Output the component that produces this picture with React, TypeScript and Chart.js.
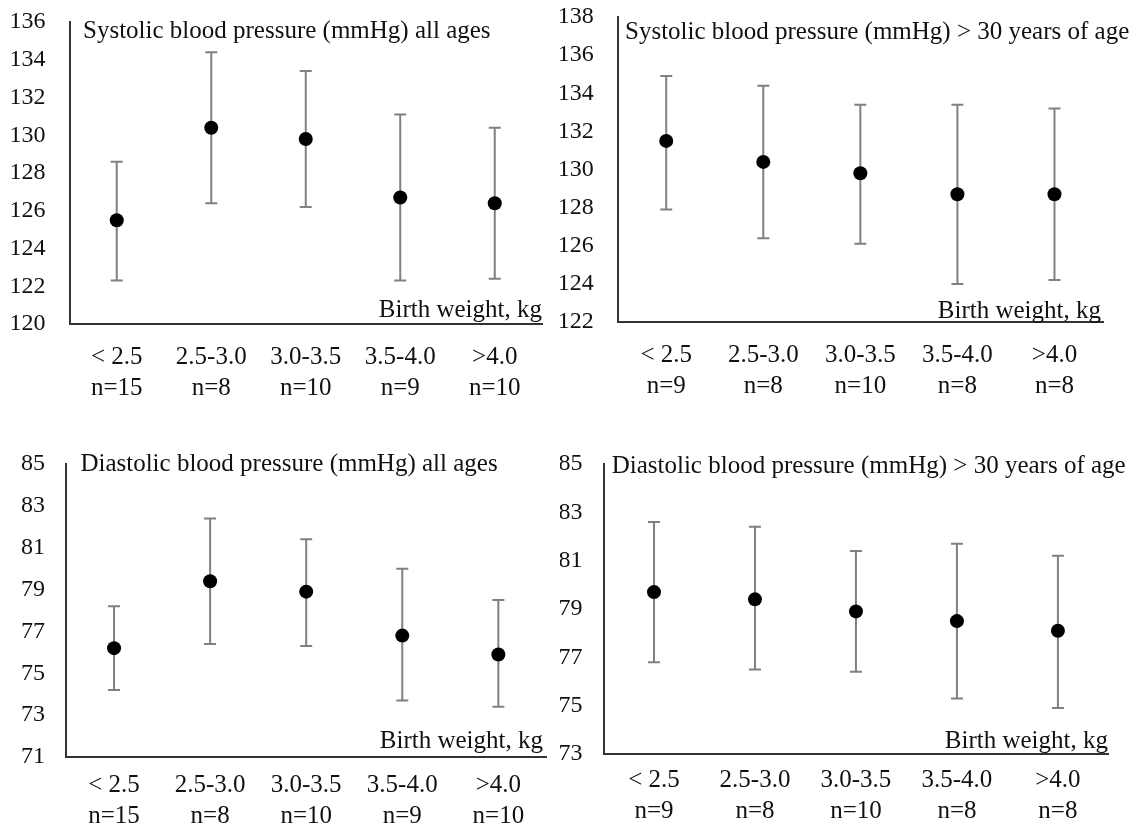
import React, { useEffect, useRef } from 'react';
import { Chart, registerables } from 'chart.js';

Chart.register(...registerables);

// ---------- data ----------
const categories = ['< 2.5', '2.5-3.0', '3.0-3.5', '3.5-4.0', '>4.0'];
const nAllAges = ['n=15', 'n=8', 'n=10', 'n=9', 'n=10'];
const nOver30 = ['n=9', 'n=8', 'n=10', 'n=8', 'n=8'];

const sysAllMean = [125.5, 130.4, 129.8, 126.7, 126.4];
const sysAllUpper = [128.6, 134.4, 133.4, 131.1, 130.4];
const sysAllLower = [122.3, 126.4, 126.2, 122.3, 122.4];

const sysOver30Mean = [131.5, 130.4, 129.8, 128.7, 128.7];
const sysOver30Upper = [134.9, 134.4, 133.4, 133.4, 133.2];
const sysOver30Lower = [127.9, 126.4, 126.1, 124.0, 124.2];

const diaAllMean = [76.2, 79.4, 78.9, 76.8, 75.9];
const diaAllUpper = [78.2, 82.4, 81.4, 80.0, 78.5];
const diaAllLower = [74.2, 76.4, 76.3, 73.7, 73.4];

const diaOver30Mean = [79.7, 79.4, 78.9, 78.5, 78.1];
const diaOver30Upper = [82.6, 82.4, 81.4, 81.7, 81.2];
const diaOver30Lower = [76.8, 76.5, 76.4, 75.3, 74.9];

const titles = [
  'Systolic blood pressure (mmHg) all ages',
  'Systolic blood pressure (mmHg) > 30 years of age',
  'Diastolic blood pressure (mmHg) all ages',
  'Diastolic blood pressure (mmHg) > 30 years of age',
];
const xAxisLabel = 'Birth weight, kg';

const FONT = "'Liberation Serif', 'Times New Roman', serif";
const TEXT = '#111111';

type Panel = {
  left: number; top: number; width: number; height: number;
  area: { left: number; right: number; top: number; bottom: number };
  yMin: number; yMax: number; yPad: number; xPad: number;
  title: string; titleX: number; titleY: number;
  axTitleX: number; axTitleY: number;
  mean: number[]; upper: number[]; lower: number[]; n: string[];
};

const panels: Panel[] = [
  {
    left: 0, top: 0, width: 560, height: 410,
    area: { left: 69.5, right: 542, top: 22, bottom: 324 },
    yMin: 120, yMax: 136, yPad: 24, xPad: 18,
    title: titles[0], titleX: 83, titleY: 38,
    axTitleX: 542, axTitleY: 317,
    mean: sysAllMean, upper: sysAllUpper, lower: sysAllLower, n: nAllAges,
  },
  {
    left: 560, top: 0, width: 577, height: 410,
    area: { left: 57.7, right: 543, top: 17, bottom: 322 },
    yMin: 122, yMax: 138, yPad: 24, xPad: 18,
    title: titles[1], titleX: 65, titleY: 39,
    axTitleX: 541, axTitleY: 318,
    mean: sysOver30Mean, upper: sysOver30Upper, lower: sysOver30Lower, n: nOver30,
  },
  {
    left: 0, top: 410, width: 560, height: 417,
    area: { left: 66, right: 546.4, top: 54, bottom: 347 },
    yMin: 71, yMax: 85, yPad: 21, xPad: 13,
    title: titles[2], titleX: 80.4, titleY: 61,
    axTitleX: 543, axTitleY: 338,
    mean: diaAllMean, upper: diaAllUpper, lower: diaAllLower, n: nAllAges,
  },
  {
    left: 560, top: 410, width: 577, height: 417,
    area: { left: 43.5, right: 548.4, top: 54, bottom: 344 },
    yMin: 73, yMax: 85, yPad: 21, xPad: 11,
    title: titles[3], titleX: 51.7, titleY: 63,
    axTitleX: 548, axTitleY: 338,
    mean: diaOver30Mean, upper: diaOver30Upper, lower: diaOver30Lower, n: nOver30,
  },
];

function PanelChart({ p }: { p: Panel }) {
  const ref = useRef<HTMLCanvasElement | null>(null);

  useEffect(() => {
    if (!ref.current) return;
    const labels = categories.map((c, i) => [c, p.n[i]]);

    const extras = {
      id: 'extras',
      beforeDatasetsDraw(chart: any) {
        const { ctx } = chart;
        const x = chart.scales.x;
        const y = chart.scales.y;
        ctx.save();
        ctx.strokeStyle = '#808080';
        ctx.lineWidth = 2;
        p.lower.forEach((lo, i) => {
          const px = x.getPixelForValue(i);
          const yl = y.getPixelForValue(lo);
          const yu = y.getPixelForValue(p.upper[i]);
          ctx.beginPath();
          ctx.moveTo(px, yl);
          ctx.lineTo(px, yu);
          ctx.moveTo(px - 6, yl);
          ctx.lineTo(px + 6, yl);
          ctx.moveTo(px - 6, yu);
          ctx.lineTo(px + 6, yu);
          ctx.stroke();
        });
        ctx.restore();
      },
      afterDraw(chart: any) {
        const { ctx } = chart;
        ctx.save();
        ctx.fillStyle = TEXT;
        ctx.font = `25px ${FONT}`;
        ctx.textBaseline = 'alphabetic';
        ctx.textAlign = 'left';
        ctx.fillText(p.title, p.titleX, p.titleY);
        ctx.textAlign = 'right';
        ctx.fillText(xAxisLabel, p.axTitleX, p.axTitleY);
        ctx.restore();
      },
    };

    const chart = new Chart(ref.current, {
      type: 'line',
      data: {
        labels,
        datasets: [
          {
            data: p.mean,
            showLine: false,
            pointRadius: 7,
            pointHoverRadius: 7,
            pointBackgroundColor: '#000000',
            pointBorderColor: '#000000',
            pointBorderWidth: 0,
          },
        ],
      },
      options: {
        animation: false,
        responsive: false,
        devicePixelRatio: 1,
        events: [],
        layout: {
          padding: {
            left: 0,
            top: p.area.top,
            right: p.width - p.area.right,
            bottom: 0,
          },
        },
        plugins: {
          legend: { display: false },
          tooltip: { enabled: false },
          title: { display: false },
        },
        scales: {
          x: {
            type: 'category',
            offset: true,
            grid: { display: false, drawTicks: false, tickLength: 0 },
            border: { display: true, color: '#333333', width: 2 },
            ticks: {
              color: TEXT,
              padding: p.xPad,
              maxRotation: 0,
              autoSkip: false,
              font: { family: FONT, size: 25, lineHeight: 1.25 },
            },
            afterFit: (s: any) => {
              s.height = p.height - p.area.bottom;
              s.paddingLeft = 0;
              s.paddingRight = 0;
            },
          },
          y: {
            min: p.yMin,
            max: p.yMax,
            grid: { display: false, drawTicks: false, tickLength: 0 },
            border: { display: true, color: '#333333', width: 2 },
            ticks: {
              stepSize: 2,
              color: TEXT,
              padding: p.yPad,
              font: { family: FONT, size: 24 },
            },
            afterFit: (s: any) => {
              s.width = p.area.left;
              s.paddingTop = 0;
              s.paddingBottom = 0;
            },
          },
        },
      },
      plugins: [extras],
    } as any);

    return () => chart.destroy();
  }, [p]);

  return (
    <div
      style={{
        position: 'absolute',
        left: p.left,
        top: p.top,
        width: p.width,
        height: p.height,
      }}
    >
      <canvas ref={ref} width={p.width} height={p.height} style={{ display: 'block' }} />
    </div>
  );
}

export default function App() {
  return (
    <div
      style={{
        position: 'absolute',
        left: 0,
        top: 0,
        width: 1137,
        height: 827,
        background: '#ffffff',
        overflow: 'hidden',
      }}
    >
      {panels.map((p, i) => (
        <PanelChart key={i} p={p} />
      ))}
    </div>
  );
}
